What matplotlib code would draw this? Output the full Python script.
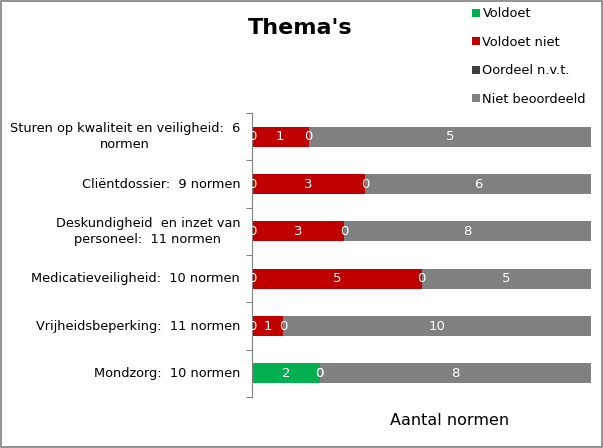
import matplotlib
matplotlib.use("Agg")
import matplotlib.pyplot as plt
from matplotlib.patches import Rectangle, Patch
import numpy as np

categories = [
    "Sturen op kwaliteit en veiligheid:  6\nnormen",
    "Cliëntdossier:  9 normen",
    "Deskundigheid  en inzet van\npersoneel:  11 normen",
    "Medicatieveiligheid:  10 normen",
    "Vrijheidsbeperking:  11 normen",
    "Mondzorg:  10 normen",
]
series_names = ["Voldoet", "Voldoet niet", "Oordeel n.v.t.", "Niet beoordeeld"]
voldoet = [0, 0, 0, 0, 0, 2]
voldoet_niet = [1, 3, 3, 5, 1, 0]
oordeel_nvt = [0, 0, 0, 0, 0, 0]
niet_beoordeeld = [5, 6, 8, 5, 10, 8]
colors = ["#00B050", "#C00000", "#404040", "#808080"]

data = np.array([voldoet, voldoet_niet, oordeel_nvt, niet_beoordeeld], dtype=float)
totals = data.sum(axis=0)
frac = data / totals

fig = plt.figure(figsize=(6.03, 4.48), dpi=100)
ax = fig.add_axes([252/603, 1-397/448, (591-252)/603, (397-113)/448])

y = np.arange(len(categories))
left = np.zeros(len(categories))
for i, name in enumerate(series_names):
    ax.barh(y, frac[i], left=left, height=0.42, color=colors[i], label=name, zorder=2)
    for j in range(len(categories)):
        cx = left[j] + frac[i][j] / 2
        ax.text(cx, y[j], f"{int(data[i][j])}", ha="center", va="center",
                color="white", fontsize=9.5, zorder=3)
    left = left + frac[i]

ax.set_xlim(0, 1)
ax.set_ylim(len(categories) - 0.5, -0.5)
ax.set_yticks(np.arange(len(categories) + 1) - 0.5)
ax.set_yticklabels([])
ax.tick_params(axis="y", direction="out", length=4, color="#808080")
ax.set_xticks([])
for s in ["top", "right", "bottom"]:
    ax.spines[s].set_visible(False)
ax.spines["left"].set_color("#808080")

for j, cat in enumerate(categories):
    ax.text(-0.035, y[j], cat, ha="right", va="center", fontsize=9.3,
            multialignment="center", linespacing=1.25,
            transform=ax.get_yaxis_transform(), color="black")

fig.text(300/603, 1-28/448, "Thema's", ha="center", va="center", fontsize=16, fontweight="bold")
fig.text(450/603, 1-420/448, "Aantal normen", ha="center", va="center", fontsize=11.5)

handles = [Patch(facecolor=c, edgecolor="none") for c in colors]
leg = fig.legend(handles, series_names, loc="upper left", bbox_to_anchor=(467/603, 1-2/448),
                 frameon=False, fontsize=9.3, handlelength=0.6, handleheight=0.6,
                 handletextpad=0.2, labelspacing=1.2, borderaxespad=0)

fig.patches.append(Rectangle((0.002, 0.002), 0.996, 0.996, transform=fig.transFigure,
                             fill=False, edgecolor="#808080", linewidth=1.2))

fig.savefig("out.png", dpi=100)
